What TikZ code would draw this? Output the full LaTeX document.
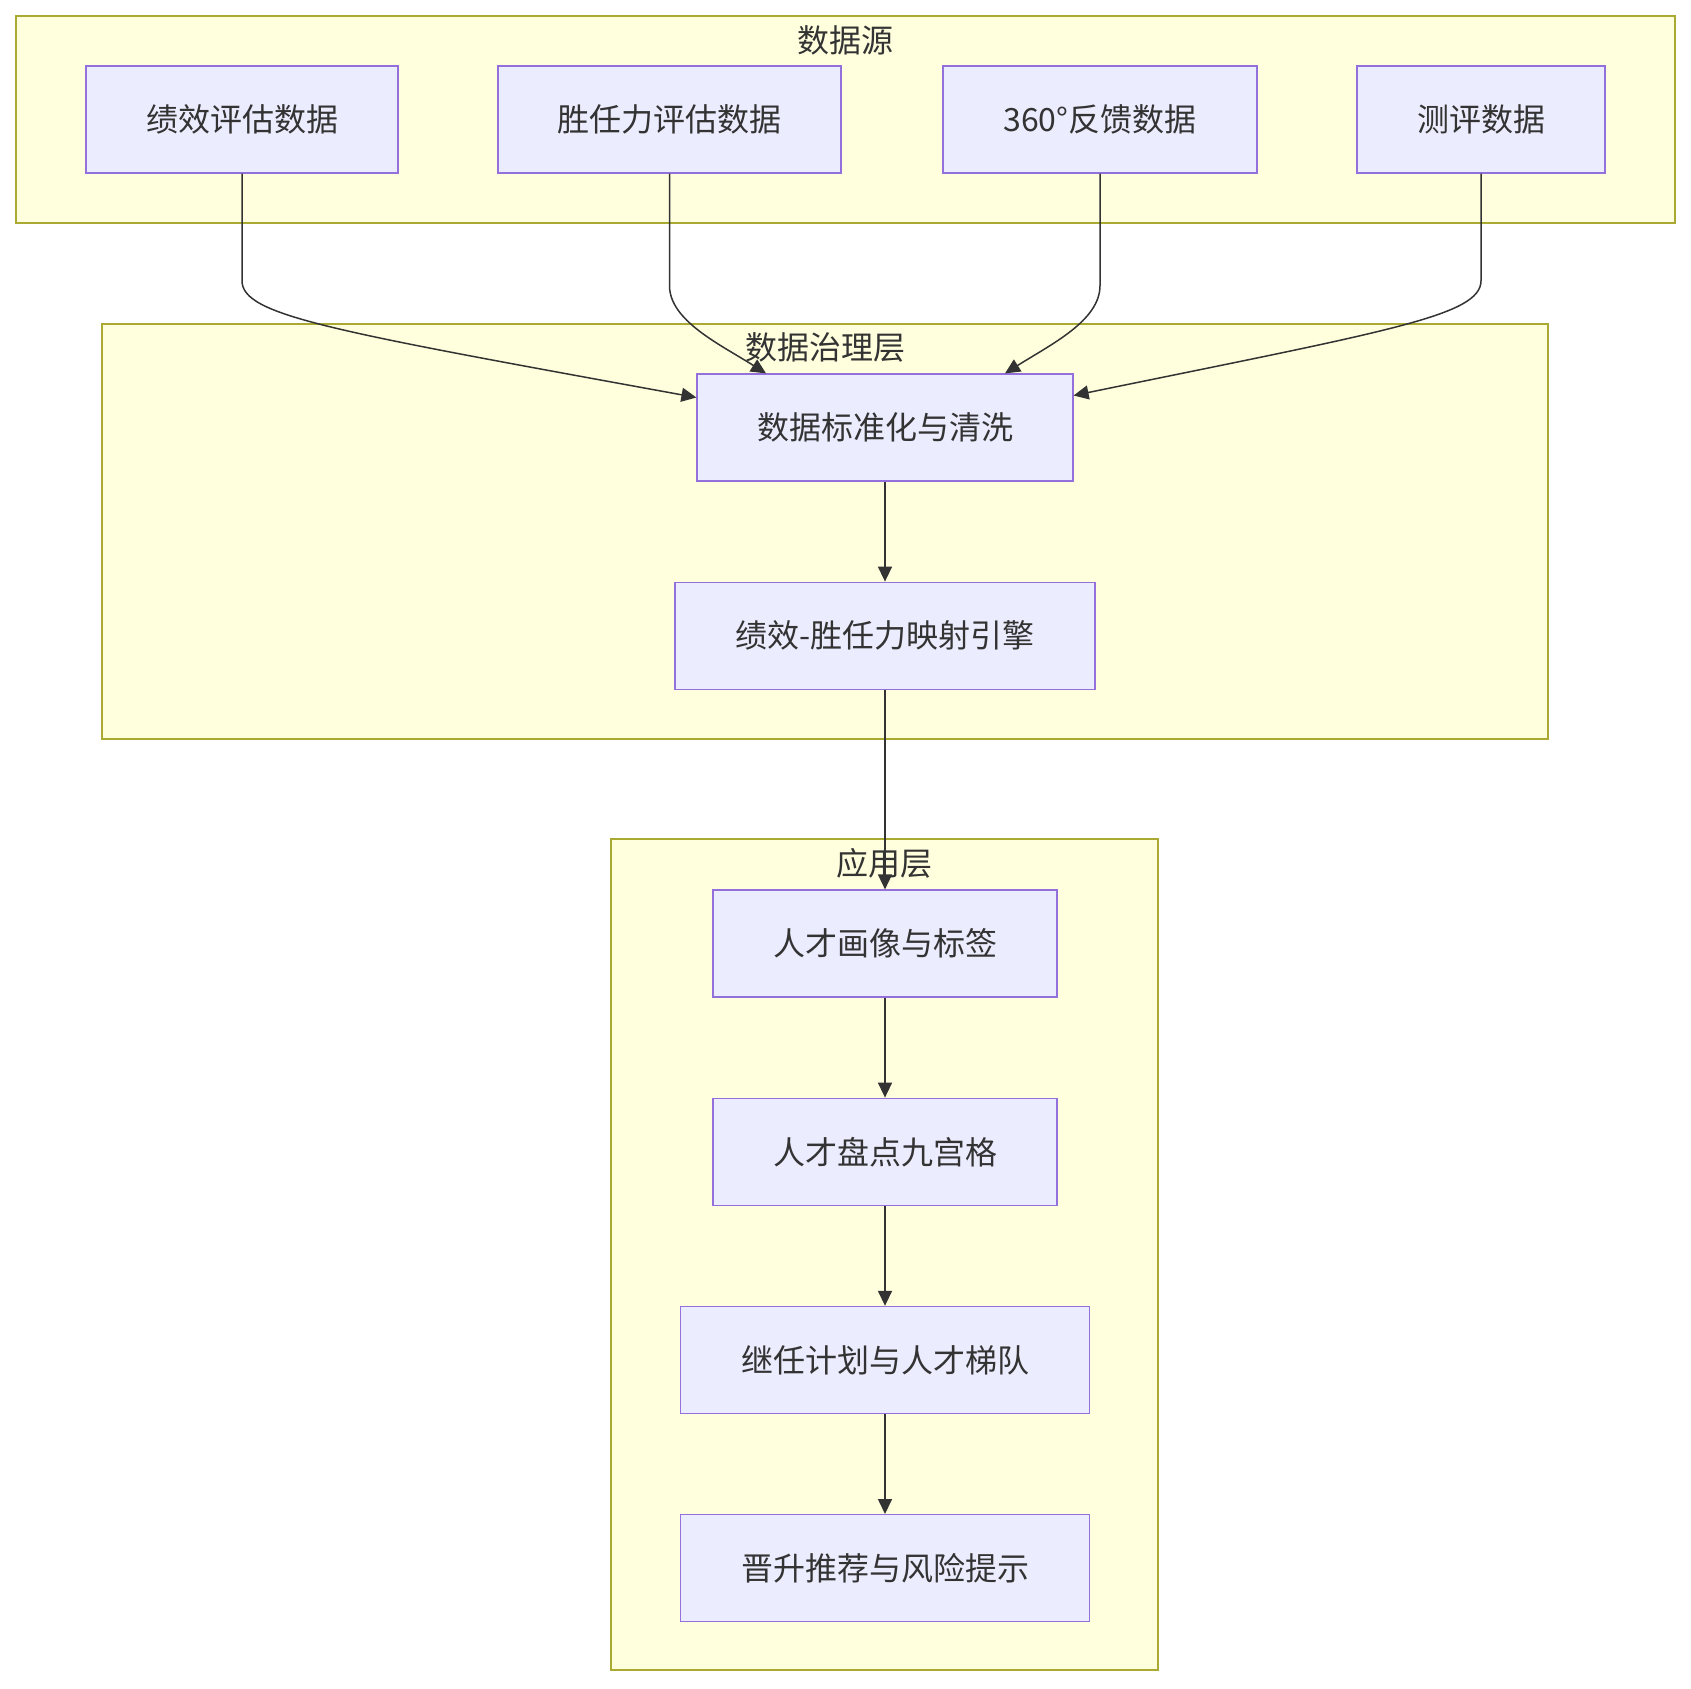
\documentclass[tikz,border=0pt]{standalone}
\usepackage{fontspec}
\setmainfont{Noto Sans CJK SC}
\usetikzlibrary{arrows.meta,positioning,calc}
\definecolor{cNode}{HTML}{ECECFF}
\definecolor{cNodeLine}{HTML}{9370DB}
\definecolor{cGroup}{HTML}{FFFFDE}
\definecolor{cGroupLine}{HTML}{AAAA33}
\definecolor{cInk}{HTML}{333333}
\tikzset{
  box/.style   ={draw=cNodeLine, fill=cNode, line width=0.6pt, minimum height=53.5pt,
                 inner sep=0pt, text=cInk, font=\fontsize{16}{19}\selectfont},
  group/.style ={draw=cGroupLine, fill=cGroup, line width=0.7pt},
  gtitle/.style={text=cInk, inner sep=0pt, font=\fontsize{16}{19}\selectfont},
  arrow/.style ={-{Triangle[length=7.5pt,width=7pt]}, line width=0.75pt, draw=cInk},
}
\begin{document}
\begin{tikzpicture}[x=0.5pt, y=-0.5pt, node distance=50pt]
    \useasboundingbox (0,0) rectangle (1691,1688);
    % groups
    \draw[group] (16,16) rectangle (1675,223);
    \draw[group] (102,324) rectangle (1548,739);
    \draw[group] (611,839) rectangle (1158,1670);
    \node[gtitle] (tsrc) at (845.5,40) {数据源};
    \node[gtitle] (tgov) at (825,347) {数据治理层};
    \node[gtitle] (tapp) at (884.5,863) {应用层};
    % data sources
    \node[box, minimum width=156pt]   (perf) at (242,119.5)  {绩效评估数据};
    \node[box, minimum width=171.5pt] (comp) at (669.5,119.5) {胜任力评估数据};
    \node[box, minimum width=157pt]   (fb)   at (1100,119.5) {360°反馈数据};
    \node[box, minimum width=124pt]   (test) at (1481,119.5) {测评数据};
    % governance
    \node[box, minimum width=188pt] (clean) at (885,427.5) {数据标准化与清洗};
    \node[box, minimum width=210pt, below=of clean] (engine) {绩效-胜任力映射引擎};
    % application
    \node[box, minimum width=172pt] (portrait) at (885,943.5) {人才画像与标签};
    \node[box, minimum width=172pt, below=of portrait] (grid) {人才盘点九宫格};
    \node[box, minimum width=204.5pt, below=of grid] (succ) {继任计划与人才梯队};
    \node[box, minimum width=204.5pt, below=of succ] (promo) {晋升推荐与风险提示};
    % edges
    \draw[arrow] (perf.south) -- ++(0,107) .. controls +(0,35) and +(-367,-67) .. ($(clean.west)+(0,-30)$);
    \draw[arrow] (comp.south) -- ++(0,112) .. controls +(0,35) and +(-46,-29) .. ($(clean.north)+(-119,0)$);
    \draw[arrow] (fb.south) -- ++(0,112) .. controls +(0,35) and +(46,-29) .. ($(clean.north)+(120,0)$);
    \draw[arrow] (test.south) -- ++(0,107) .. controls +(0,35) and +(317,-65) .. ($(clean.east)+(0,-32)$);
    \draw[arrow] (clean) -- (engine);
    \draw[arrow] (engine) -- (portrait);
    \draw[arrow] (portrait) -- (grid);
    \draw[arrow] (grid) -- (succ);
    \draw[arrow] (succ) -- (promo);
\end{tikzpicture}
\end{document}
